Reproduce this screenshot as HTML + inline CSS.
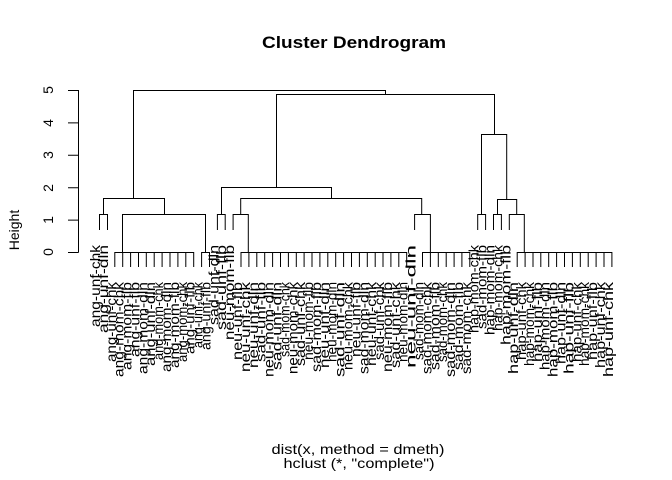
<!DOCTYPE html>
<html><head><meta charset="utf-8"><style>
html,body{margin:0;padding:0;background:#fff;}
svg{display:block;}
text{font-family:"Liberation Sans",Arial,sans-serif;fill:#000;}
.l{font-size:14px;}
</style></head><body>
<svg width="672" height="480" viewBox="0 0 672 480" xmlns="http://www.w3.org/2000/svg">
<text x="354" y="48" font-size="17" font-weight="bold" text-anchor="middle" textLength="184" lengthAdjust="spacingAndGlyphs">Cluster Dendrogram</text>
<text x="358" y="454" font-size="14" text-anchor="middle" textLength="173" lengthAdjust="spacingAndGlyphs">dist(x, method = dmeth)</text>
<text x="359" y="468" font-size="14" text-anchor="middle" textLength="151" lengthAdjust="spacingAndGlyphs">hclust (*, "complete")</text>
<text transform="translate(19,230) rotate(-90)" font-size="14" text-anchor="middle">Height</text>
<g stroke="#000" stroke-width="1" fill="none">
<path d="M78.5 90V252.5M68 252.5H78.5M68 220.1H78.5M68 187.7H78.5M68 155.3H78.5M68 122.9H78.5M68 90.5H78.5"/>
</g>
<g font-size="14" text-anchor="middle">
<text transform="translate(53,252) rotate(-90)">0</text>
<text transform="translate(53,220) rotate(-90)">1</text>
<text transform="translate(53,188) rotate(-90)">2</text>
<text transform="translate(53,155) rotate(-90)">3</text>
<text transform="translate(53,123) rotate(-90)">4</text>
<text transform="translate(53,90) rotate(-90)">5</text>
</g>
<g stroke="#000" stroke-width="1" fill="none">
<path d="M133.5 198V90.5H385.5V94.5M276.5 187V94.5H494.5V134"/>
<path d="M103.5 214V198.5H164.5V214"/>
<path d="M99.5 230V214.5H107.5V230"/>
<path d="M122.5 252V214.5H205.5V252"/>
<path d="M114.8 267V252.5H193.7V267"/>
<path d="M122.7 252.5V267M130.6 252.5V267M138.5 252.5V267M146.3 252.5V267M154.2 252.5V267M162.1 252.5V267M170 252.5V267M177.9 252.5V267M185.8 252.5V267"/>
<path d="M201.6 267V252.5H209.5V267"/>
<path d="M221.5 214V187.5H331.5V198"/>
<path d="M217.4 230V214.5H225.2V230"/>
<path d="M240.7 214V198.5H421.7V214"/>
<path d="M233.1 230V214.5H248.3V252"/>
<path d="M241 267V252.5H406.7V267"/>
<path d="M248.9 252.5V267M256.8 252.5V267M264.7 252.5V267M272.6 252.5V267M280.5 252.5V267M288.4 252.5V267M296.3 252.5V267M304.1 252.5V267M312 252.5V267M319.9 252.5V267M327.8 252.5V267M335.7 252.5V267M343.6 252.5V267M351.5 252.5V267M359.4 252.5V267M367.3 252.5V267M375.2 252.5V267M383 252.5V267M390.9 252.5V267M398.8 252.5V267"/>
<path d="M414.6 230V214.5H430.4V252"/>
<path d="M422.5 267V252.5H469.8V267"/>
<path d="M430.4 252.5V267M438.3 252.5V267M446.2 252.5V267M454.1 252.5V267M461.9 252.5V267"/>
<path d="M481.5 214V134.5H506.7V199"/>
<path d="M477.7 230V214.5H485.6V230"/>
<path d="M497.5 214V199.5H516.7V214"/>
<path d="M493.5 230V214.5H501.4V230"/>
<path d="M509.3 230V214.5H524.3V252"/>
<path d="M517.2 267V252.5H611.9V267"/>
<path d="M525.1 252.5V267M533 252.5V267M540.8 252.5V267M548.7 252.5V267M556.6 252.5V267M564.5 252.5V267M572.4 252.5V267M580.3 252.5V267M588.2 252.5V267M596.1 252.5V267M604 252.5V267"/>
</g>
<g class="l" text-anchor="end">
<text transform="translate(100,245) rotate(-90)" textLength="82" lengthAdjust="spacingAndGlyphs">ang-unf-chk</text>
<text transform="translate(107.9,245) rotate(-90)" textLength="88" lengthAdjust="spacingAndGlyphs">ang-unf-dln</text>
<text transform="translate(115.8,282) rotate(-90)" textLength="80" lengthAdjust="spacingAndGlyphs">ang-unf-chk</text>
<text transform="translate(123.7,282) rotate(-90)" textLength="95" lengthAdjust="spacingAndGlyphs">ang-mom-chk</text>
<text transform="translate(131.6,282) rotate(-90)" textLength="88" lengthAdjust="spacingAndGlyphs">ang-mom-flb</text>
<text transform="translate(139.5,282) rotate(-90)" textLength="75" lengthAdjust="spacingAndGlyphs">ang-unf-flb</text>
<text transform="translate(147.3,282) rotate(-90)" textLength="92" lengthAdjust="spacingAndGlyphs">ang-mom-dln</text>
<text transform="translate(155.2,282) rotate(-90)" textLength="84" lengthAdjust="spacingAndGlyphs">ang-unf-dln</text>
<text transform="translate(163.1,282) rotate(-90)" textLength="78" lengthAdjust="spacingAndGlyphs">ang-mom-chk</text>
<text transform="translate(171,282) rotate(-90)" textLength="90" lengthAdjust="spacingAndGlyphs">ang-mom-dln</text>
<text transform="translate(178.9,282) rotate(-90)" textLength="86" lengthAdjust="spacingAndGlyphs">ang-mom-flb</text>
<text transform="translate(186.8,282) rotate(-90)" textLength="80" lengthAdjust="spacingAndGlyphs">ang-mom-chk</text>
<text transform="translate(194.7,282) rotate(-90)" textLength="72" lengthAdjust="spacingAndGlyphs">ang-unf-flb</text>
<text transform="translate(202.6,282) rotate(-90)" textLength="66" lengthAdjust="spacingAndGlyphs">ang-unf-chk</text>
<text transform="translate(210.5,282) rotate(-90)" textLength="68" lengthAdjust="spacingAndGlyphs">ang-unf-flb</text>
<text transform="translate(218.4,245) rotate(-90)" textLength="80" lengthAdjust="spacingAndGlyphs">sad-unf-dln</text>
<text transform="translate(226.2,245) rotate(-90)" textLength="85" lengthAdjust="spacingAndGlyphs">sad-unf-flb</text>
<text transform="translate(234.1,245) rotate(-90)" textLength="95" lengthAdjust="spacingAndGlyphs">neu-mom-flb</text>
<text transform="translate(242,282) rotate(-90)" textLength="78" lengthAdjust="spacingAndGlyphs">neu-unf-flb</text>
<text transform="translate(249.9,282) rotate(-90)" textLength="90" lengthAdjust="spacingAndGlyphs">neu-unf-chk</text>
<text transform="translate(257.8,282) rotate(-90)" textLength="86" lengthAdjust="spacingAndGlyphs">neu-unf-dln</text>
<text transform="translate(265.7,282) rotate(-90)" textLength="80" lengthAdjust="spacingAndGlyphs">sad-unf-flb</text>
<text transform="translate(273.6,282) rotate(-90)" textLength="95" lengthAdjust="spacingAndGlyphs">neu-mom-dln</text>
<text transform="translate(281.5,282) rotate(-90)" textLength="88" lengthAdjust="spacingAndGlyphs">sad-unf-dln</text>
<text transform="translate(289.4,282) rotate(-90)" textLength="75" lengthAdjust="spacingAndGlyphs">sad-mom-chk</text>
<text transform="translate(297.3,282) rotate(-90)" textLength="92" lengthAdjust="spacingAndGlyphs">neu-mom-chk</text>
<text transform="translate(305.1,282) rotate(-90)" textLength="84" lengthAdjust="spacingAndGlyphs">sad-unf-chk</text>
<text transform="translate(313,282) rotate(-90)" textLength="78" lengthAdjust="spacingAndGlyphs">neu-mom-flb</text>
<text transform="translate(320.9,282) rotate(-90)" textLength="90" lengthAdjust="spacingAndGlyphs">sad-mom-flb</text>
<text transform="translate(328.8,282) rotate(-90)" textLength="86" lengthAdjust="spacingAndGlyphs">neu-unf-dln</text>
<text transform="translate(336.7,282) rotate(-90)" textLength="80" lengthAdjust="spacingAndGlyphs">neu-mom-dln</text>
<text transform="translate(344.6,282) rotate(-90)" textLength="95" lengthAdjust="spacingAndGlyphs">sad-unf-dln</text>
<text transform="translate(352.5,282) rotate(-90)" textLength="88" lengthAdjust="spacingAndGlyphs">neu-mom-chk</text>
<text transform="translate(360.4,282) rotate(-90)" textLength="75" lengthAdjust="spacingAndGlyphs">neu-unf-flb</text>
<text transform="translate(368.3,282) rotate(-90)" textLength="92" lengthAdjust="spacingAndGlyphs">sad-mom-dln</text>
<text transform="translate(376.2,282) rotate(-90)" textLength="84" lengthAdjust="spacingAndGlyphs">neu-unf-chk</text>
<text transform="translate(384,282) rotate(-90)" textLength="78" lengthAdjust="spacingAndGlyphs">sad-unf-chk</text>
<text transform="translate(391.9,282) rotate(-90)" textLength="90" lengthAdjust="spacingAndGlyphs">neu-mom-flb</text>
<text transform="translate(399.8,282) rotate(-90)" textLength="86" lengthAdjust="spacingAndGlyphs">sad-unf-chk</text>
<text transform="translate(407.7,282) rotate(-90)" textLength="80" lengthAdjust="spacingAndGlyphs">neu-mom-dln</text>
<text transform="translate(415.6,245) rotate(-90)" textLength="123" lengthAdjust="spacingAndGlyphs">neu-unf-dln</text>
<text transform="translate(423.5,282) rotate(-90)" textLength="78" lengthAdjust="spacingAndGlyphs">sad-mom-dln</text>
<text transform="translate(431.4,282) rotate(-90)" textLength="92" lengthAdjust="spacingAndGlyphs">sad-mom-chk</text>
<text transform="translate(439.3,282) rotate(-90)" textLength="88" lengthAdjust="spacingAndGlyphs">sad-mom-flb</text>
<text transform="translate(447.2,282) rotate(-90)" textLength="80" lengthAdjust="spacingAndGlyphs">sad-mom-chk</text>
<text transform="translate(455.1,282) rotate(-90)" textLength="95" lengthAdjust="spacingAndGlyphs">sad-mom-dln</text>
<text transform="translate(462.9,282) rotate(-90)" textLength="88" lengthAdjust="spacingAndGlyphs">sad-mom-flb</text>
<text transform="translate(470.8,282) rotate(-90)" textLength="92" lengthAdjust="spacingAndGlyphs">sad-mom-chk</text>
<text transform="translate(478.7,245) rotate(-90)" textLength="88" lengthAdjust="spacingAndGlyphs">hap-mom-chk</text>
<text transform="translate(486.6,245) rotate(-90)" textLength="84" lengthAdjust="spacingAndGlyphs">sad-mom-flb</text>
<text transform="translate(494.5,245) rotate(-90)" textLength="90" lengthAdjust="spacingAndGlyphs">hap-mom-dln</text>
<text transform="translate(502.4,245) rotate(-90)" textLength="86" lengthAdjust="spacingAndGlyphs">hap-mom-chk</text>
<text transform="translate(510.3,245) rotate(-90)" textLength="100" lengthAdjust="spacingAndGlyphs">hap-mom-flb</text>
<text transform="translate(518.2,282) rotate(-90)" textLength="92" lengthAdjust="spacingAndGlyphs">hap-unf-dln</text>
<text transform="translate(526.1,282) rotate(-90)" textLength="78" lengthAdjust="spacingAndGlyphs">hap-unf-chk</text>
<text transform="translate(534,282) rotate(-90)" textLength="84" lengthAdjust="spacingAndGlyphs">hap-mom-chk</text>
<text transform="translate(541.8,282) rotate(-90)" textLength="80" lengthAdjust="spacingAndGlyphs">hap-unf-flb</text>
<text transform="translate(549.7,282) rotate(-90)" textLength="88" lengthAdjust="spacingAndGlyphs">hap-mom-dln</text>
<text transform="translate(557.6,282) rotate(-90)" textLength="95" lengthAdjust="spacingAndGlyphs">hap-mom-flb</text>
<text transform="translate(565.5,282) rotate(-90)" textLength="82" lengthAdjust="spacingAndGlyphs">hap-unf-dln</text>
<text transform="translate(573.4,282) rotate(-90)" textLength="92" lengthAdjust="spacingAndGlyphs">hap-unf-flb</text>
<text transform="translate(581.3,282) rotate(-90)" textLength="80" lengthAdjust="spacingAndGlyphs">hap-unf-chk</text>
<text transform="translate(589.2,282) rotate(-90)" textLength="84" lengthAdjust="spacingAndGlyphs">hap-mom-chk</text>
<text transform="translate(597.1,282) rotate(-90)" textLength="78" lengthAdjust="spacingAndGlyphs">hap-unf-flb</text>
<text transform="translate(605,282) rotate(-90)" textLength="86" lengthAdjust="spacingAndGlyphs">hap-unf-chk</text>
<text transform="translate(612.9,282) rotate(-90)" textLength="95" lengthAdjust="spacingAndGlyphs">hap-unf-chk</text>
</g>
</svg>
</body></html>
